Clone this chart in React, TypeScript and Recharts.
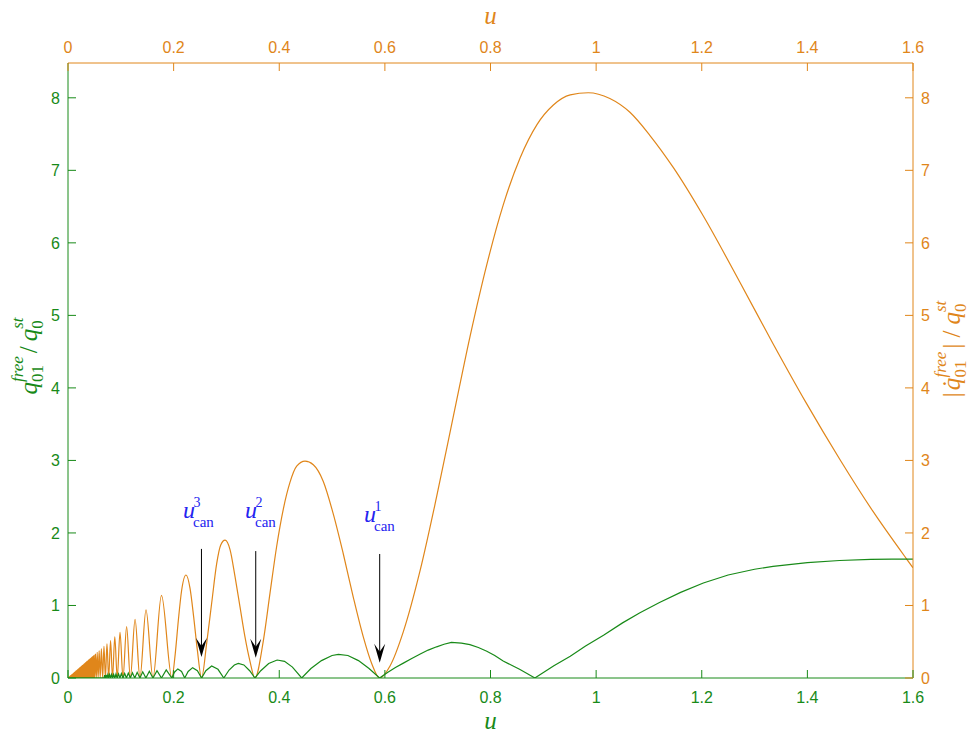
import { ComposedChart, Line, XAxis, YAxis, ReferenceLine, ReferenceDot } from "recharts";

const GREEN = "#188a18";
const ORANGE = "#e0861a";
const BLUE = "#2424f0";
const SANS = "'Liberation Sans', Arial, sans-serif";
const SERIF = "'Liberation Serif', 'Times New Roman', serif";

const uTicks = [0, 0.2, 0.4, 0.6, 0.8, 1, 1.2, 1.4, 1.6];
const qTicks = [0, 1, 2, 3, 4, 5, 6, 7, 8];

// q01 free / q0 st against u (left axis)
const freeAmp: [number, number][] = [
  [0, 0], [0.0681, 0], [0.0694, 0.041], [0.0708, 0], [0.0723, 0.043], [0.0738, 0],
  [0.0754, 0.045], [0.077, 0], [0.0787, 0.047], [0.0805, 0], [0.0824, 0.049], [0.0843, 0],
  [0.0864, 0.051], [0.0885, 0], [0.0908, 0.054], [0.0932, 0], [0.0957, 0.057], [0.0983, 0],
  [0.1011, 0.06], [0.1041, 0], [0.1073, 0.064], [0.1106, 0], [0.1142, 0.068], [0.118, 0],
  [0.122, 0.073], [0.1264, 0], [0.131, 0.078], [0.1362, 0], [0.1415, 0.085], [0.1475, 0],
  [0.154, 0.092], [0.1609, 0], [0.1685, 0.101], [0.177, 0], [0.186, 0.112], [0.1967, 0],
  [0.2015, 0.08], [0.208, 0.125], [0.215, 0.09], [0.221, 0], [0.2275, 0.09], [0.236, 0.143],
  [0.245, 0.1], [0.253, 0], [0.261, 0.1], [0.272, 0.165], [0.284, 0.12], [0.295, 0],
  [0.305, 0.11], [0.315, 0.18], [0.3225, 0.2], [0.333, 0.18], [0.344, 0.1], [0.354, 0],
  [0.365, 0.1], [0.38, 0.2], [0.396, 0.248], [0.41, 0.23], [0.425, 0.15], [0.4425, 0],
  [0.46, 0.13], [0.48, 0.24], [0.5, 0.31], [0.512, 0.326], [0.53, 0.31], [0.55, 0.24],
  [0.57, 0.13], [0.59, 0], [0.605, 0.075], [0.62, 0.145], [0.635, 0.205], [0.65, 0.265],
  [0.667, 0.33], [0.682, 0.385], [0.698, 0.43], [0.712, 0.465], [0.726, 0.49], [0.745, 0.48],
  [0.761, 0.46], [0.777, 0.42], [0.793, 0.37], [0.808, 0.31], [0.824, 0.235], [0.84, 0.175],
  [0.855, 0.12], [0.87, 0.06], [0.884, 0], [0.92, 0.17], [0.951, 0.3], [0.98, 0.44],
  [1.014, 0.59], [1.05, 0.76], [1.083, 0.9], [1.12, 1.04], [1.16, 1.18], [1.203, 1.31],
  [1.25, 1.42], [1.3, 1.5], [1.335, 1.54], [1.4, 1.59], [1.461, 1.62], [1.52, 1.635],
  [1.56, 1.64], [1.6, 1.64],
];

// |dq01 free / dt| / q0 st against u (right axis); below u ~ 0.05 the lobes are sub-pixel
const freeVel: [number, number][] = [
  [0, 0], [0.0007, 0.0045], [0.0014, 0], [0.0021, 0.0134], [0.0028, 0], [0.0035, 0.0224],
  [0.0042, 0], [0.0049, 0.0314], [0.0056, 0], [0.0063, 0.0403], [0.007, 0], [0.0077, 0.0493],
  [0.0084, 0], [0.0091, 0.0582], [0.0098, 0], [0.0105, 0.0672], [0.0112, 0], [0.0119, 0.0762],
  [0.0126, 0], [0.0133, 0.0851], [0.014, 0], [0.0147, 0.0941], [0.0154, 0], [0.0161, 0.103],
  [0.0168, 0], [0.0175, 0.112], [0.0182, 0], [0.0189, 0.121], [0.0196, 0], [0.0203, 0.13],
  [0.021, 0], [0.0217, 0.139], [0.0224, 0], [0.0231, 0.148], [0.0238, 0], [0.0245, 0.157],
  [0.0252, 0], [0.0259, 0.166], [0.0266, 0], [0.0273, 0.175], [0.028, 0], [0.0287, 0.184],
  [0.0294, 0], [0.0301, 0.193], [0.0308, 0], [0.0315, 0.202], [0.0322, 0], [0.0329, 0.211],
  [0.0336, 0], [0.0343, 0.22], [0.035, 0], [0.0357, 0.228], [0.0364, 0], [0.0371, 0.237],
  [0.0378, 0], [0.0385, 0.246], [0.0392, 0], [0.0399, 0.255], [0.0406, 0], [0.0413, 0.264],
  [0.042, 0], [0.0427, 0.273], [0.0434, 0], [0.0441, 0.282], [0.0448, 0], [0.0455, 0.291],
  [0.0462, 0], [0.0469, 0.3], [0.0476, 0], [0.0483, 0.309], [0.049, 0], [0.0497, 0.318],
  [0.0506, 0], [0.0521, 0.333], [0.0536, 0], [0.0553, 0.354], [0.0571, 0], [0.059, 0.378],
  [0.061, 0], [0.0632, 0.405], [0.0656, 0], [0.0681, 0.436], [0.0708, 0], [0.0738, 0.472],
  [0.077, 0], [0.0806, 0.516], [0.0843, 0], [0.0886, 0.567], [0.0932, 0], [0.0985, 0.63],
  [0.1041, 0], [0.111, 0.71], [0.118, 0], [0.127, 0.81], [0.1362, 0], [0.1477, 0.94],
  [0.1609, 0], [0.177, 1.14], [0.1967, 0], [0.203, 0.33], [0.209, 0.8], [0.215, 1.2],
  [0.2234, 1.42], [0.231, 1.24], [0.238, 0.84], [0.245, 0.38], [0.2529, 0], [0.2626, 0.48],
  [0.272, 1.03], [0.2816, 1.58], [0.289, 1.83], [0.2973, 1.9], [0.3068, 1.77], [0.3162, 1.4],
  [0.3257, 0.98], [0.335, 0.57], [0.3446, 0.23], [0.354, 0], [0.37, 0.52], [0.3825, 1.17],
  [0.395, 1.81], [0.408, 2.34], [0.42, 2.69], [0.433, 2.92], [0.4488, 2.99], [0.4645, 2.94],
  [0.4834, 2.71], [0.502, 2.27], [0.521, 1.72], [0.54, 1.12], [0.559, 0.57], [0.575, 0.2],
  [0.59, 0], [0.61, 0.17], [0.635, 0.64], [0.667, 1.49], [0.698, 2.5], [0.73, 3.62],
  [0.761, 4.7], [0.793, 5.7], [0.824, 6.52], [0.856, 7.17], [0.888, 7.63], [0.919, 7.9],
  [0.951, 8.04], [0.985, 8.07], [1.026, 7.99], [1.064, 7.8], [1.102, 7.48], [1.146, 7.04],
  [1.203, 6.37], [1.272, 5.46], [1.335, 4.61], [1.398, 3.79], [1.461, 3.02], [1.524, 2.3],
  [1.587, 1.65], [1.6, 1.52],
];

// cancellation speeds: arrow from `from` down to `to`, label anchored at (labelU, labelQ)
const canceling = [
  { n: "3", u: 0.2527, from: 1.78, to: 0.29, labelU: 0.2178, labelQ: 2.2 },
  { n: "2", u: 0.3555, from: 1.75, to: 0.28, labelU: 0.3352, labelQ: 2.2 },
  { n: "1", u: 0.5902, from: 1.71, to: 0.21, labelU: 0.5605, labelQ: 2.15 },
];

const ampRows = freeAmp.map(([u, q]) => ({ u, q }));
const velRows = freeVel.map(([u, q]) => ({ u, q }));

const fmt = (v: number) => String(v);

function BottomTick({ x, y, payload }: any) {
  return (
    <g>
      <line x1={x} y1={y} x2={x} y2={y - 8} stroke={GREEN} />
      <text x={x} y={y + 25} textAnchor="middle" fill={GREEN} fontSize={16} fontFamily={SANS}>
        {fmt(payload.value)}
      </text>
    </g>
  );
}

function TopTick({ x, y, payload }: any) {
  return (
    <g>
      <line x1={x} y1={y} x2={x} y2={y + 8} stroke={ORANGE} />
      <text x={x} y={y - 10} textAnchor="middle" fill={ORANGE} fontSize={16} fontFamily={SANS}>
        {fmt(payload.value)}
      </text>
    </g>
  );
}

function LeftTick({ x, y, payload }: any) {
  return (
    <g>
      <line x1={x} y1={y} x2={x + 8} y2={y} stroke={GREEN} />
      <text x={x - 8} y={y + 6} textAnchor="end" fill={GREEN} fontSize={16} fontFamily={SANS}>
        {fmt(payload.value)}
      </text>
    </g>
  );
}

function RightTick({ x, y, payload }: any) {
  return (
    <g>
      <line x1={x} y1={y} x2={x - 8} y2={y} stroke={ORANGE} />
      <text x={x + 8} y={y + 6} textAnchor="start" fill={ORANGE} fontSize={16} fontFamily={SANS}>
        {fmt(payload.value)}
      </text>
    </g>
  );
}

function Arrow({ x1, y1, x2, y2 }: any) {
  return (
    <g>
      <line x1={x1} y1={y1} x2={x2} y2={y2 - 10} stroke="#000" strokeWidth={1} />
      <polygon
        points={`${x2},${y2} ${x2 - 5.5},${y2 - 19} ${x2},${y2 - 11} ${x2 + 5.5},${y2 - 19}`}
        fill="#000"
      />
    </g>
  );
}

function CanLabel({ cx, cy, n }: any) {
  return (
    <g fill={BLUE} fontFamily={SERIF}>
      <text x={cx} y={cy} fontSize={24} fontStyle="italic">u</text>
      <text x={cx + 10.5} y={cy - 11} fontSize={14}>{n}</text>
      <text x={cx + 10} y={cy + 9} fontSize={15}>can</text>
    </g>
  );
}

export default function App() {
  return (
    <div style={{ position: "absolute", left: 0, top: 0 }}>
      <ComposedChart width={971} height={735} margin={{ top: 33, right: 18, bottom: 27, left: 28 }}>
        <XAxis
          xAxisId="bottom"
          dataKey="u"
          type="number"
          orientation="bottom"
          domain={[0, 1.6]}
          ticks={uTicks}
          interval={0}
          height={30}
          tickSize={0}
          tickMargin={0}
          tickLine={false}
          axisLine={{ stroke: GREEN }}
          tick={BottomTick}
          allowDataOverflow
        />
        <XAxis
          xAxisId="top"
          dataKey="u"
          type="number"
          orientation="top"
          domain={[0, 1.6]}
          ticks={uTicks}
          interval={0}
          height={30}
          tickSize={0}
          tickMargin={0}
          tickLine={false}
          axisLine={{ stroke: ORANGE }}
          tick={TopTick}
          allowDataOverflow
        />
        <YAxis
          yAxisId="left"
          type="number"
          orientation="left"
          domain={[0, 8.48]}
          ticks={qTicks}
          interval={0}
          width={40}
          tickSize={0}
          tickMargin={0}
          tickLine={false}
          axisLine={{ stroke: GREEN }}
          tick={LeftTick}
          allowDataOverflow
        />
        <YAxis
          yAxisId="right"
          type="number"
          orientation="right"
          domain={[0, 8.48]}
          ticks={qTicks}
          interval={0}
          width={40}
          tickSize={0}
          tickMargin={0}
          tickLine={false}
          axisLine={{ stroke: ORANGE }}
          tick={RightTick}
          allowDataOverflow
        />

        <Line
          data={velRows}
          dataKey="q"
          xAxisId="top"
          yAxisId="right"
          type="monotone"
          stroke={ORANGE}
          strokeWidth={1.2}
          dot={false}
          activeDot={false}
          isAnimationActive={false}
        />
        <Line
          data={ampRows}
          dataKey="q"
          xAxisId="bottom"
          yAxisId="left"
          type="linear"
          stroke={GREEN}
          strokeWidth={1.2}
          dot={false}
          activeDot={false}
          isAnimationActive={false}
        />

        {canceling.map((c) => (
          <ReferenceLine
            key={"a" + c.n}
            xAxisId="bottom"
            yAxisId="left"
            segment={[{ x: c.u, y: c.from }, { x: c.u, y: c.to }]}
            shape={(p: any) => <Arrow {...p} />}
          />
        ))}
        {canceling.map((c) => (
          <ReferenceDot
            key={"l" + c.n}
            xAxisId="bottom"
            yAxisId="left"
            x={c.labelU}
            y={c.labelQ}
            shape={(p: any) => <CanLabel {...p} n={c.n} />}
          />
        ))}

        {/* axis titles */}
        <text x={490.5} y={729} textAnchor="middle" fill={GREEN} fontFamily={SERIF} fontStyle="italic" fontSize={25}>
          u
        </text>
        <text x={490.5} y={24} textAnchor="middle" fill={ORANGE} fontFamily={SERIF} fontStyle="italic" fontSize={25}>
          u
        </text>
        <g transform="translate(37, 356) rotate(-90)">
          <text textAnchor="middle" fill={GREEN} fontFamily={SERIF} fontSize={25}>
            <tspan fontStyle="italic">q</tspan>
            <tspan fontSize={17} dy={6}>01</tspan>
            <tspan fontSize={17} fontStyle="italic" dx={-17} dy={-20}>free</tspan>
            <tspan dx={3} dy={14}>/</tspan>
            <tspan fontStyle="italic" dx={5}>q</tspan>
            <tspan fontSize={17} dy={6}>0</tspan>
            <tspan fontSize={17} fontStyle="italic" dx={-8.5} dy={-20}>st</tspan>
          </text>
        </g>
        <g transform="translate(960, 349) rotate(-90)">
          <text textAnchor="middle" fill={ORANGE} fontFamily={SERIF} fontSize={25}>
            <tspan>|</tspan>
            <tspan fontStyle="italic" dx={2}>q</tspan>
            <tspan dx={-10}>˙</tspan>
            <tspan fontSize={17} dx={2} dy={6}>01</tspan>
            <tspan fontSize={17} fontStyle="italic" dx={-17} dy={-20}>free</tspan>
            <tspan dx={3} dy={14}>|</tspan>
            <tspan dx={6}>/</tspan>
            <tspan fontStyle="italic" dx={6}>q</tspan>
            <tspan fontSize={17} dy={6}>0</tspan>
            <tspan fontSize={17} fontStyle="italic" dx={-8.5} dy={-20}>st</tspan>
          </text>
        </g>
      </ComposedChart>
    </div>
  );
}
